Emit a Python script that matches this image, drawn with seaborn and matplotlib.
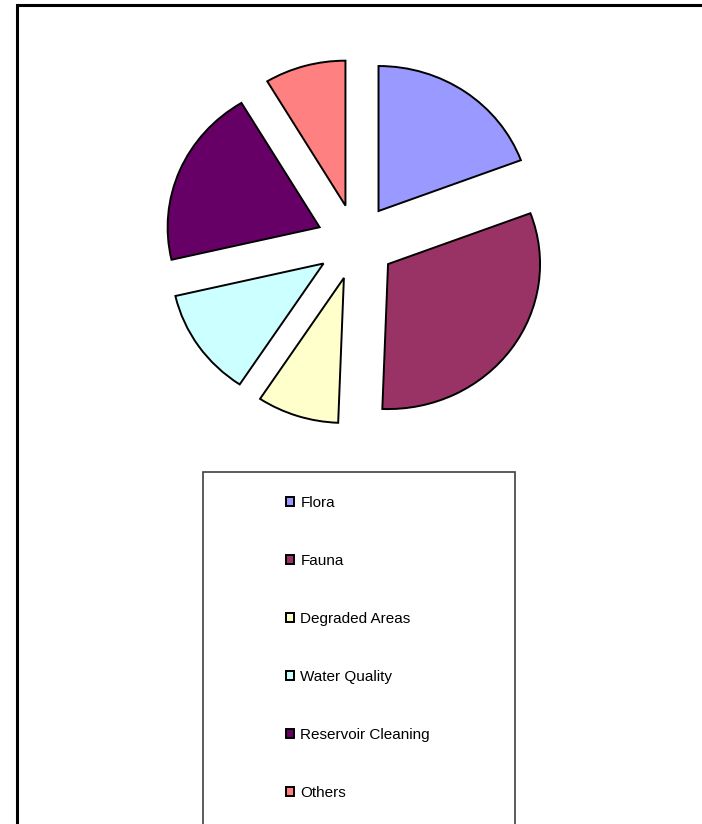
import matplotlib
matplotlib.use("Agg")
import matplotlib.pyplot as plt
from matplotlib.patches import Rectangle
import seaborn as sns

# shares (percent)
categories = ["Flora", "Fauna", "Degraded Areas", "Water Quality", "Reservoir Cleaning", "Others"]
shares = [19.3, 31.3, 8.7, 12.1, 20.0, 8.6]
hex_colors = ["#9999FF", "#993366", "#FFFFCC", "#CCFFFF", "#660066", "#FF8080"]

sns.set_style("white")
plt.rcParams['font.family'] = ['Liberation Sans', 'DejaVu Sans']
plt.rcParams['text.color'] = 'black'
colors = sns.color_palette(hex_colors)

W, H = 702, 824
fig = plt.figure(figsize=(W / 100, H / 100), dpi=100)
fig.patch.set_facecolor("white")

# pie axes: centre at (356, 242) px, slightly wider than tall like the original
cx, cy, rx, ry, half = 356, 242, 152, 145, 200
ax = fig.add_axes([(cx - half) / W, (H - cy - half) / H, 2 * half / W, 2 * half / H])
wedges, _ = ax.pie(shares, colors=colors, startangle=90, counterclock=False,
                   explode=[0.26] * len(shares),
                   wedgeprops=dict(edgecolor="black", linewidth=1.4))
ax.set_xlim(-half / rx, half / rx)
ax.set_ylim(-half / ry, half / ry)
ax.set_aspect("auto")
ax.axis("off")

# outer chart frame (only top and left are inside the picture)
fig.add_artist(Rectangle((17 / W, -0.1), 1.2, 1.1 - 5 / H, transform=fig.transFigure,
                         fill=False, edgecolor="black", linewidth=2.2))

# legend box running off the bottom
fig.add_artist(Rectangle((203 / W, -0.1), (515 - 203) / W, 0.1 + (H - 472) / H,
                         transform=fig.transFigure, fill=False,
                         edgecolor="#404040", linewidth=1.2))

leg = fig.legend(wedges, categories, loc="upper left",
                 bbox_to_anchor=(278 / W, 1 - 488 / H), frameon=False,
                 fontsize=11, labelspacing=2.88, handlelength=0.55, handleheight=0.55,
                 handletextpad=0.42, borderpad=0)

fig.savefig("out.png", dpi=100, facecolor="white")
